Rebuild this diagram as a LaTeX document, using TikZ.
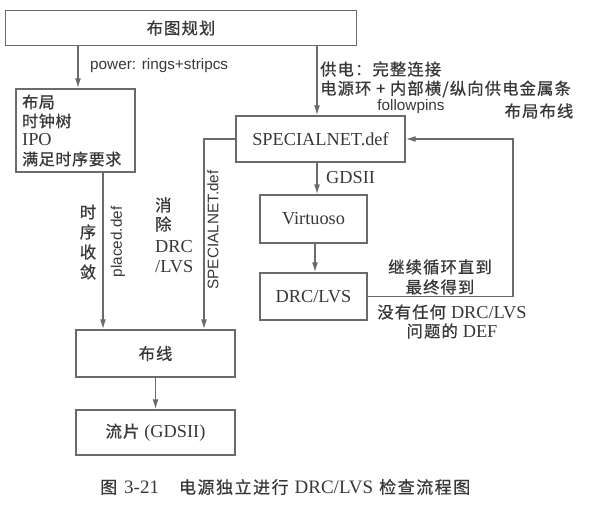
\documentclass[tikz,border=0pt]{standalone}
\usepackage{fontspec}
\setmainfont{Liberation Serif}
\newfontfamily\cjk[LetterSpace=7,FakeBold=0.8]{Noto Sans CJK SC}
\newfontfamily\cjks[LetterSpace=4,FakeBold=0.8]{Noto Sans CJK SC}
\newfontfamily\cjkcap[LetterSpace=9,FakeBold=0.6]{Noto Sans CJK SC}
\newfontfamily\sans{Liberation Sans}
\usetikzlibrary{arrows.meta}
\definecolor{ln}{HTML}{6A6A6A}
\definecolor{tx}{HTML}{383838}
\newcommand{\zhf}{\cjk\fontsize{16.3}{18}\selectfont}
\newcommand{\zhs}{\cjks\fontsize{16}{18}\selectfont}
\newcommand{\laf}{\fontsize{18.3}{20}\selectfont}
\tikzset{
  box/.style={draw=ln, line width=1.4pt, inner sep=0pt, text=tx},
  arr/.style={draw=ln, line width=1.4pt, -{Latex[length=10pt,width=6pt]}},
  lbl/.style={text=tx, inner sep=0pt},
  zh/.style={font=\zhf},
  zhsmall/.style={font=\zhs},
  lat/.style={font=\laf},
  sf/.style={font=\sans\fontsize{15.3}{17}\selectfont},
}
\begin{document}
\begin{tikzpicture}[x=1pt,y=-1pt]
\useasboundingbox (0,0) rectangle (604,513);
% boxes
\node[box, zh, minimum width=351pt, minimum height=35pt] (plan) at (181,28) {布图规划};
\node[box, minimum width=119pt, minimum height=83pt] (layout) at (75.5,130.5) {};
\node[box, lat, minimum width=169pt, minimum height=46pt] (special) at (320.5,139) {SPECIALNET.def};
\node[box, lat, minimum width=107pt, minimum height=48pt] (virt) at (313.5,219) {Virtuoso};
\node[box, lat, minimum width=107pt, minimum height=47pt] (drc) at (313.5,296.5) {DRC/LVS};
\node[box, zh, minimum width=159pt, minimum height=47pt] (route) at (155.5,353.5) {布线};
\node[box, minimum width=159pt, minimum height=45pt] (tape) at (155.5,432.5) {{\zhf 流片}\hspace{5pt}{\laf (GDSII)}};
% text inside layout box
\node[lbl, zhsmall, anchor=west] (l1) at (22,102) {布局};
\node[lbl, zhsmall, anchor=west] (l2) at (22,121) {时钟树};
\node[lbl, lat, anchor=west] (l3) at (22,140) {IPO};
\node[lbl, zhsmall, anchor=west] (l4) at (22,159) {满足时序要求};
% coordinates for connectors
\coordinate (xa) at (78,0);
\coordinate (xb) at (317,0);
\coordinate (xc) at (103,0);
\coordinate (xd) at (204,0);
\coordinate (xe) at (155.5,0);
\coordinate (xf) at (513,0);
\coordinate (xg) at (315,0);
% connectors
\draw[arr] (xa |- plan.south) -- (xa |- layout.north);
\draw[arr] (xb |- plan.south) -- (xb |- special.north);
\draw[arr] (xc |- layout.south) -- (xc |- route.north);
\draw[arr] (special.west) -| (xd |- route.north);
\draw[arr] (xb |- special.south) -- (xb |- virt.north);
\draw[arr] (xg |- virt.south) -- (xg |- drc.north);
\draw[arr] (xe |- route.south) -- (xe |- tape.north);
\draw[arr] (drc.east) -| (xf |- special.east) -- (special.east);
% labels
\node[lbl, sf, anchor=west] (p1) at (90,66) {power: rings+stripcs};
\node[lbl, zh, anchor=west] (s1) at (320,69) {供电：完整连接};
\node[lbl, zh, anchor=west] (s2) at (320,89) {电源环 + 内部横/纵向供电金属条};
\node[lbl, sf] (s3) at (411,107) {followpins};
\node[lbl, zh] (s4) at (539,111) {布局布线};
\node[lbl, zh] (t1a) at (88,212) {时};
\node[lbl, zh] (t1b) at (88,232) {序};
\node[lbl, zh] (t1c) at (88,252) {收};
\node[lbl, zh] (t1d) at (88,272) {敛};
\node[lbl, sf, rotate=90] (t2) at (118,242) {placed.def};
\node[lbl, zh, anchor=west] (t3a) at (155,205) {消};
\node[lbl, zh, anchor=west] (t3b) at (155,224) {除};
\node[lbl, lat, anchor=west] (t3c) at (155,247) {DRC};
\node[lbl, lat, anchor=west] (t3d) at (155,267) {/LVS};
\node[lbl, sf, rotate=90] (t4) at (213,230) {SPECIALNET.def};
\node[lbl, lat, anchor=west] (g1) at (326,178) {GDSII};
\node[lbl, zh] (c1) at (440,267) {继续循环直到};
\node[lbl, zh] (c2) at (440,287) {最终得到};
\node[lbl] (c3) at (452,312) {{\zhf 没有任何}\hspace{5pt}{\laf DRC/LVS}};
\node[lbl] (c4) at (452,331) {{\zhf 问题的}\hspace{5pt}{\laf DEF}};
\node[lbl, anchor=west] (cap) at (100,487) {{\cjkcap\fontsize{17}{19}\selectfont 图}\hspace{7pt}{\fontsize{19}{21}\selectfont 3-21}\hspace{20pt}{\cjkcap\fontsize{17}{19}\selectfont 电源独立进行}\hspace{6pt}{\fontsize{19}{21}\selectfont DRC/LVS}\hspace{6pt}{\cjkcap\fontsize{17}{19}\selectfont 检查流程图}};
\end{tikzpicture}
\end{document}
